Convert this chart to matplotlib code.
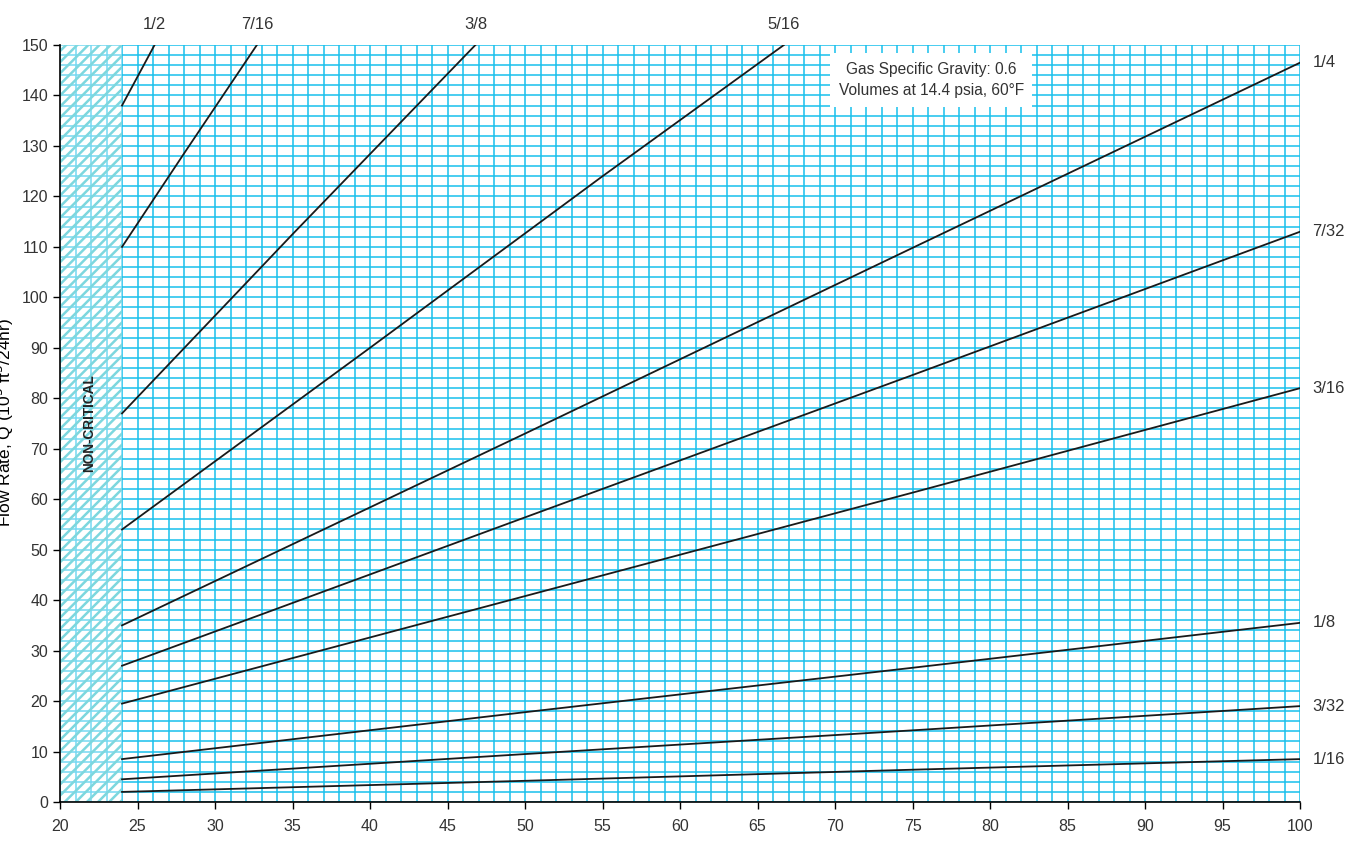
import matplotlib

matplotlib.use("Agg")
import matplotlib.pyplot as plt
from matplotlib.ticker import MultipleLocator

# orifice sizes (in) and flow rate, Q in 10^3 ft^3/24hr
SIZES = ["1/16", "3/32", "1/8", "3/16", "7/32", "1/4", "5/16", "3/8", "7/16", "1/2"]
X_1_16 = [24, 50, 75, 100]; Q_1_16 = [2.0, 4.2, 6.4, 8.5]
X_3_32 = [24, 50, 75, 100]; Q_3_32 = [4.5, 9.5, 14.2, 19.0]
X_1_8 = [24, 50, 75, 100]; Q_1_8 = [8.5, 17.8, 26.6, 35.5]
X_3_16 = [24, 50, 75, 100]; Q_3_16 = [19.5, 40.8, 61.3, 82.0]
X_7_32 = [24, 50, 75, 100]; Q_7_32 = [27.0, 56.4, 84.6, 113.0]
X_1_4 = [24, 50, 75, 100]; Q_1_4 = [35.0, 73.0, 109.8, 146.5]
X_5_16 = [24, 40, 55, 66.7]; Q_5_16 = [54.0, 90.0, 124.0, 150.0]
X_3_8 = [24, 35, 46.8]; Q_3_8 = [77.0, 112.5, 150.0]
X_7_16 = [24, 28, 32.7]; Q_7_16 = [110.0, 128.5, 150.0]
X_1_2 = [24, 26.1]; Q_1_2 = [138.0, 150.0]

XS = [X_1_16, X_3_32, X_1_8, X_3_16, X_7_32, X_1_4, X_5_16, X_3_8, X_7_16, X_1_2]
QS = [Q_1_16, Q_3_32, Q_1_8, Q_3_16, Q_7_32, Q_1_4, Q_5_16, Q_3_8, Q_7_16, Q_1_2]

GRID = "#18c0ec"
TXT = "#333333"
plt.rcParams["font.family"] = ["Liberation Sans", "DejaVu Sans"]
plt.rcParams["hatch.linewidth"] = 1.8

fig = plt.figure(figsize=(13.67, 8.46), dpi=100)
ax = fig.add_axes([0.0439, 0.052, 0.9071, 0.8948])
ax.set_xlim(20, 100); ax.set_ylim(0, 150)

ax.xaxis.set_major_locator(MultipleLocator(5)); ax.xaxis.set_minor_locator(MultipleLocator(1))
ax.yaxis.set_major_locator(MultipleLocator(10)); ax.yaxis.set_minor_locator(MultipleLocator(2))
ax.set_axisbelow(True)
ax.grid(True, which="both", color=GRID, lw=1.1)
ax.tick_params(which="minor", length=0)
ax.tick_params(which="major", length=5, width=1, colors="black", labelcolor=TXT, labelsize=11.5)
ax.tick_params(axis="x", pad=7)
for s in ("top", "right"):
    ax.spines[s].set_visible(False)
for s in ("left", "bottom"):
    ax.spines[s].set_linewidth(1.2)

# non-critical band
ax.axvspan(20, 24, facecolor=(1, 1, 1, 0.4), edgecolor="#7dd7de", hatch="///", lw=0, zorder=1)
ax.text(21.9, 75, "NON-CRITICAL", rotation=90, ha="center", va="center",
        fontsize=9.8, fontweight="bold", color="#222222")

for name, x, q in zip(SIZES, XS, QS):
    ax.plot(x, q, color="#1a1a1a", lw=1.3, zorder=3)
    if q[-1] >= 150:
        ax.text(x[-1], 152.5, name, ha="center", va="bottom", fontsize=12, color=TXT,
                clip_on=False)
    else:
        ax.text(100.8, q[-1], name, ha="left", va="center", fontsize=12, color=TXT,
                clip_on=False)

ax.text(76.2, 143.1, "Gas Specific Gravity: 0.6\nVolumes at 14.4 psia, 60\u00b0F",
        ha="center", va="center", fontsize=11.2, color=TXT, linespacing=1.55, zorder=4,
        bbox=dict(boxstyle="square,pad=0.55", facecolor="white", edgecolor="none"))

fig.text(0.003, 0.5, "Flow Rate, Q (10$^3$ ft$^3$/24hr)", rotation=90, ha="center",
         va="center", fontsize=12.5, color="black")

fig.savefig("out.png", dpi=100)
